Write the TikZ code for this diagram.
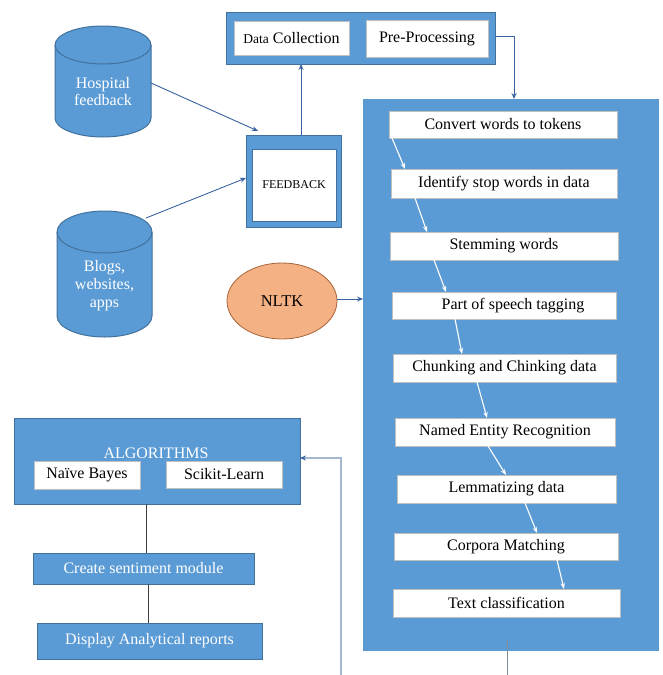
\documentclass[tikz,border=0pt]{standalone}
\usepackage{fontspec}
\setmainfont{Liberation Serif}
\usetikzlibrary{arrows.meta,calc,shapes.geometric}
\definecolor{bfill}{HTML}{5B9BD5}
\definecolor{bline}{HTML}{41719C}
\definecolor{darrow}{HTML}{3A62A0}
\definecolor{nfill}{HTML}{F4B183}
\definecolor{nline}{HTML}{A8643A}
\definecolor{lline}{HTML}{A3B8CE}
\definecolor{gline}{HTML}{7F8C99}
\begin{document}
\begin{tikzpicture}[x=1pt,y=-1pt,
  every node/.style={inner sep=0pt,outer sep=0pt,font=\fontsize{16}{18}\selectfont},
  bluebox/.style={draw=bline,fill=bfill,line width=1pt},
  whitebox/.style={draw=gray!50,fill=white,line width=0.6pt},
  warrow/.style={draw=white,line width=1.1pt,-{Stealth[length=6pt,width=4.5pt]}},
  barrow/.style={draw=darrow,line width=0.9pt,-{Stealth[length=6pt,width=5pt]}},
  cyl/.style={draw=bline,fill=bfill,line width=1pt}
  ]
\useasboundingbox (0,0) rectangle (662,675);
\fill[white] (0,0) rectangle (662,675);

% top box
\node[bluebox,minimum width=269pt,minimum height=52pt] (top) at (360.5,38) {};
\node[whitebox,minimum width=115pt,minimum height=34pt] (dc) at (291.5,38) {{\fontsize{13.5}{15}\selectfont Data} Collection};
\node[whitebox,minimum width=122pt,minimum height=37pt] (pp) at (427,38.5) {Pre-Processing};

% big box
\node[bluebox,draw=bfill,minimum width=295pt,minimum height=551pt] (big) at (510.5,374.5) {};
\node[whitebox,minimum width=228pt,minimum height=27pt] (s1) at (503,124.5) {Convert words to tokens};
\node[whitebox,minimum width=226pt,minimum height=29pt] (s2) at (504,183.5) {Identify stop words in data};
\node[whitebox,minimum width=228pt,minimum height=28pt] (s3) at (504,246) {Stemming words};
\node[whitebox,minimum width=224pt,minimum height=27pt] (s4) at (504,305.5) {\hspace*{18pt}Part of speech tagging};
\node[whitebox,minimum width=223pt,minimum height=28pt] (s5) at (504.5,368) {Chunking and Chinking data};
\node[whitebox,minimum width=220pt,minimum height=28pt] (s6) at (505,432) {Named Entity Recognition};
\node[whitebox,minimum width=219pt,minimum height=28pt] (s7) at (506.5,489) {Lemmatizing data};
\node[whitebox,minimum width=224pt,minimum height=27pt] (s8) at (506,546.5) {Corpora Matching};
\node[whitebox,minimum width=227pt,minimum height=28pt] (s9) at (506.5,603) {Text classification};

\draw[warrow] ([xshift=3pt]s1.south west) -- ([xshift=14pt]s2.north west);
\draw[warrow] ([xshift=24pt]s2.south west) -- ([xshift=37pt]s3.north west);
\draw[warrow] ([xshift=44pt]s3.south west) -- ([xshift=54pt]s4.north west);
\draw[warrow] ([xshift=63pt]s4.south west) -- ([xshift=69pt]s5.north west);
\draw[warrow] ([xshift=84pt]s5.south west) -- ([xshift=92pt]s6.north west);
\draw[warrow] ([xshift=93pt]s6.south west) -- ([xshift=109pt]s7.north west);
\draw[warrow] ([xshift=128pt]s7.south west) -- ([xshift=143pt]s8.north west);
\draw[warrow] ([xshift=163pt]s8.south west) -- ([xshift=171pt]s9.north west);

% top box to big box
\draw[barrow] ([yshift=2pt]top.east) -| ([xshift=3.5pt]big.north);

% feedback
\node[bluebox,minimum width=95pt,minimum height=92pt] (fbo) at (293.5,181) {};
\node[whitebox,draw=bline,minimum width=84pt,minimum height=72pt,font=\fontsize{12}{14}\selectfont] (fbi) at (294,185) {FEEDBACK};
\draw[barrow] ([xshift=7.5pt]fbo.north) -- ([xshift=7.5pt]fbo.north |- top.south);

% cylinders
\draw[cyl] (55,45) -- (55,118) arc[start angle=180,end angle=360,x radius=48pt,y radius=19pt]
  -- (151,45) arc[start angle=0,end angle=180,x radius=48pt,y radius=19pt] -- cycle;
\draw[bline,line width=1pt] (55,45) arc[start angle=180,end angle=360,x radius=48pt,y radius=19pt];
\node[minimum width=96pt,minimum height=111pt] (hosp) at (103,81.5) {};
\node[text=white,align=center,font=\fontsize{16}{17}\selectfont] (hospt) at (103,92) {Hospital\\feedback};

\draw[cyl] (57,232) -- (57,316) arc[start angle=180,end angle=360,x radius=47.5pt,y radius=21pt]
  -- (152,232) arc[start angle=0,end angle=180,x radius=47.5pt,y radius=21pt] -- cycle;
\draw[bline,line width=1pt] (57,232) arc[start angle=180,end angle=360,x radius=47.5pt,y radius=21pt];
\node[minimum width=95pt,minimum height=126pt] (blogs) at (104.5,274) {};
\node[text=white,align=center,font=\fontsize{16}{18}\selectfont] (blogst) at (104.5,286) {Blogs,\\websites,\\apps};

\draw[barrow] ([yshift=-1.5pt]hosp.east) -- ([xshift=12pt,yshift=4pt]fbo.north west);
\draw[barrow] ([xshift=-6pt,yshift=-7pt]blogs.north east) -- ([yshift=3pt]fbo.west);

% NLTK
\node[ellipse,draw=nline,fill=nfill,line width=0.8pt,minimum width=110pt,minimum height=76pt,font=\fontsize{16.5}{18}\selectfont] (nltk) at (282,301) {NLTK};
\draw[barrow] ([yshift=2pt]nltk.east) -- ([yshift=2pt]nltk.east -| big.west);

% algorithms
\node[bluebox,minimum width=286pt,minimum height=86pt] (alg) at (157,461) {};
\node[text=white] (algt) at (156,453) {ALGORITHMS};
\node[whitebox,minimum width=106pt,minimum height=28pt] (nb) at (87,475) {Naïve Bayes};
\node[whitebox,minimum width=116pt,minimum height=27pt] (sk) at (224,474.5) {Scikit-Learn};

\node[bluebox,text=white,minimum width=221pt,minimum height=31pt] (cs) at (143.5,568.5) {Create sentiment module};
\node[bluebox,text=white,minimum width=225pt,minimum height=36pt] (da) at (149.5,641) {Display Analytical reports};

\draw[black!75,line width=0.8pt] ([xshift=-11pt]alg.south) -- ([xshift=-11pt]alg.south |- cs.north);
\draw[black!75,line width=0.8pt] ([xshift=4.5pt]cs.south) -- ([xshift=4.5pt]cs.south |- da.north);

% return line
\coordinate (lb) at (341,675);
\draw[lline,line width=1.2pt,-{Stealth[length=6pt,width=5pt,color=darrow]}] (lb) |- ([yshift=3pt]alg.east);

% bottom line from big box
\coordinate (bb) at (507,675);
\draw[gline,line width=1pt] ([xshift=-3.5pt,yshift=11pt]big.south) -- ([xshift=-3.5pt]big.south |- bb);
\end{tikzpicture}
\end{document}
